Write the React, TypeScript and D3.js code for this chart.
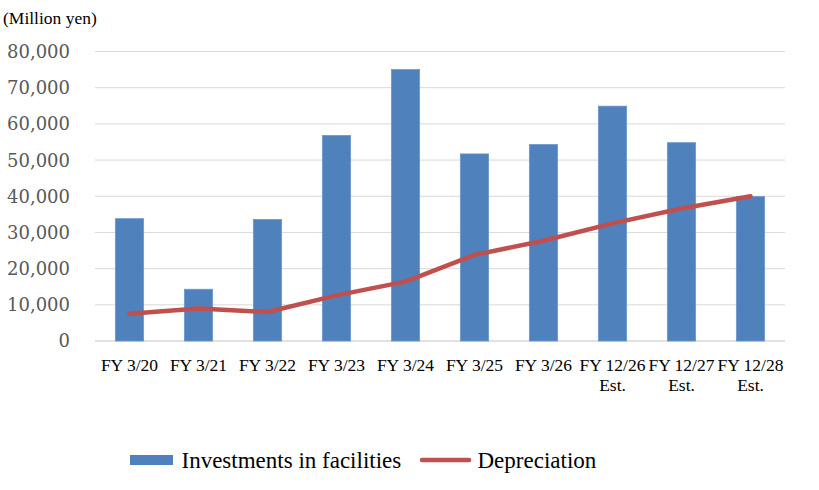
import * as d3 from 'd3';

const categories = [
  ['FY 3/20'], ['FY 3/21'], ['FY 3/22'], ['FY 3/23'], ['FY 3/24'],
  ['FY 3/25'], ['FY 3/26'], ['FY 12/26', 'Est.'], ['FY 12/27', 'Est.'], ['FY 12/28', 'Est.'],
];
const investments = [33800, 14300, 33600, 56800, 75000, 51700, 54300, 64900, 54800, 39900];
const depreciation = [7500, 9000, 8000, 12600, 16400, 23800, 27700, 32500, 36600, 40000];
const yTicks = [0, 10000, 20000, 30000, 40000, 50000, 60000, 70000, 80000];

const W = 819;
const H = 490;
const margin = { left: 95, right: 34, top: 51.5, bottom: 149 };

export default function App() {
  const keys = categories.map(c => c.join(' '));
  const x = d3.scaleBand<string>()
    .domain(keys)
    .range([margin.left, W - margin.right]);
  const y = d3.scaleLinear()
    .domain([0, 80000])
    .range([H - margin.bottom, margin.top]);

  const barW = x.bandwidth() * 0.41;
  const cx = (i: number) => (x(keys[i]) as number) + x.bandwidth() / 2;

  const line = d3.line<number>()
    .x((_, i) => cx(i))
    .y(d => y(d));

  const fmt = d3.format(',');

  return (
    <svg width={W} height={H} style={{ position: 'absolute', left: 0, top: 0, background: '#fff' }}>
      <text x={3} y={24} fontFamily="'Liberation Serif', serif" fontSize={17.5} fill="#000">(Million yen)</text>

      {/* grid + y labels */}
      {yTicks.map(t => (
        <g key={t}>
          <line x1={margin.left} x2={W - margin.right} y1={y(t)} y2={y(t)}
            stroke="#d9d9d9" strokeWidth={t === 0 ? 1.5 : 1} />
          <text x={70} y={y(t)} dy="0.36em" textAnchor="end"
            fontFamily="'DejaVu Serif', serif" fontSize={18} fill="#595959">{fmt(t)}</text>
        </g>
      ))}

      {/* bars */}
      {investments.map((v, i) => (
        <rect key={i} x={cx(i) - barW / 2} y={y(v)} width={barW} height={y(0) - y(v)}
          fill="#4f81bd" stroke="#6d97cb" strokeWidth={0.8} />
      ))}

      {/* depreciation line */}
      <path d={line(depreciation) || ''} fill="none" stroke="#c0504d" strokeWidth={4.5}
        strokeLinecap="round" strokeLinejoin="round" />

      {/* x labels */}
      {categories.map((c, i) => (
        <text key={i} x={cx(i)} y={371} textAnchor="middle"
          fontFamily="'Liberation Serif', serif" fontSize={17.5} fill="#000">
          {c.map((s, j) => (
            <tspan key={j} x={cx(i)} dy={j === 0 ? 0 : 19.5}>{s}</tspan>
          ))}
        </text>
      ))}

      {/* legend */}
      <rect x={130} y={455} width={43} height={10} fill="#4f81bd" />
      <text x={181.5} y={468} fontFamily="'Liberation Serif', serif" fontSize={23} fill="#000">
        Investments in facilities
      </text>
      <line x1={422} x2={469} y1={460} y2={460} stroke="#c0504d" strokeWidth={4.5} strokeLinecap="round" />
      <text x={477.5} y={468} fontFamily="'Liberation Serif', serif" fontSize={23} fill="#000">
        Depreciation
      </text>
    </svg>
  );
}
